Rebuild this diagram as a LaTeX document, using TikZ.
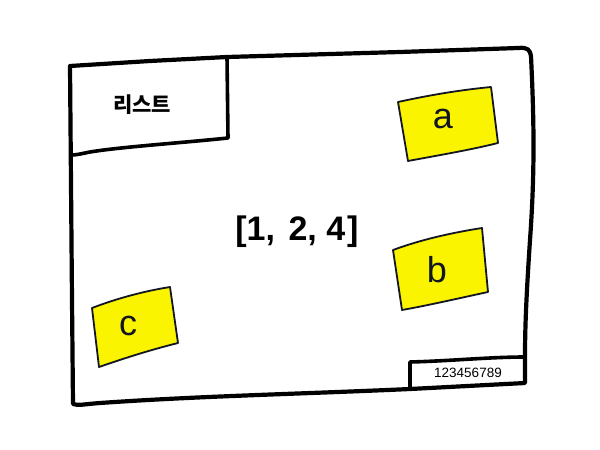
\documentclass[tikz,border=0pt]{standalone}
\usepackage{fontspec}
\setmainfont{Liberation Sans}
\newfontfamily\krfont{Noto Sans CJK KR}
\definecolor{stickyyellow}{RGB}{250,244,0}
\definecolor{penink}{RGB}{18,22,34}
\tikzset{
  frameline/.style={line width=4.2pt, line cap=round, line join=round, black},
  boxline/.style={line width=3.6pt, line cap=round, line join=round, black},
  sticky/.style={fill=stickyyellow, draw=penink, line width=1.8pt, line join=round},
  letter/.style={font=\fontsize{36}{40}\selectfont, text=penink, inner sep=0pt},
}
\begin{document}
\begin{tikzpicture}[x=1pt,y=-1pt]
\useasboundingbox (0,0) rectangle (600,450);
\fill[white] (0,0) rectangle (600,450);
% outer frame
\draw[frameline] (70,66) -- (150,61) -- (227,57) -- (400,52) -- (518,48) .. controls (528,47) and (530,50) .. (531,56)
  .. controls (534,120) and (535,170) .. (530,240) .. controls (526,300) and (525,330) .. (525,357)
  -- (525,383) -- (410,389) .. controls (300,394) and (200,396) .. (100,403) .. controls (85,404) and (78,406) .. (73,404)
  -- (72,300) -- (70,66);
% list header box
\draw[boxline] (227,57) -- (228,138) .. controls (180,143) and (120,147) .. (90,152) .. controls (80,154) and (76,155) .. (72,155);
\node[font=\krfont\bfseries\fontsize{21}{24}\selectfont, inner sep=0pt] (title) at (142,105) {리스트};
% small counter box
\draw[boxline] (410,389) -- (410,362) .. controls (450,361) and (490,357) .. (525,357);
\node[font=\fontsize{13.5}{15}\selectfont, inner sep=0pt] (count) at (468,373) {123456789};
% center value
\node[font=\bfseries\fontsize{34}{38}\selectfont, inner sep=0pt] (value) at (297,232) {[1,\hspace{4pt} 2, 4\hspace{2pt}]};
% sticky notes
\draw[sticky] (398,102) .. controls (430,95) and (460,90) .. (491,87) -- (498,143) .. controls (470,150) and (440,155) .. (408,161) -- cycle;
\node[letter] (a) at (443,119) {a};
\draw[sticky] (393,250) .. controls (420,240) and (450,233) .. (482,228) -- (488,292) .. controls (460,298) and (430,305) .. (402,310) -- cycle;
\node[letter] (b) at (437,270) {b};
\draw[sticky] (92,308) .. controls (118,298) and (145,291) .. (170,287) -- (178,343) .. controls (150,350) and (125,358) .. (99,367) -- cycle;
\node[letter] (c) at (128,326) {c};
\end{tikzpicture}
\end{document}
